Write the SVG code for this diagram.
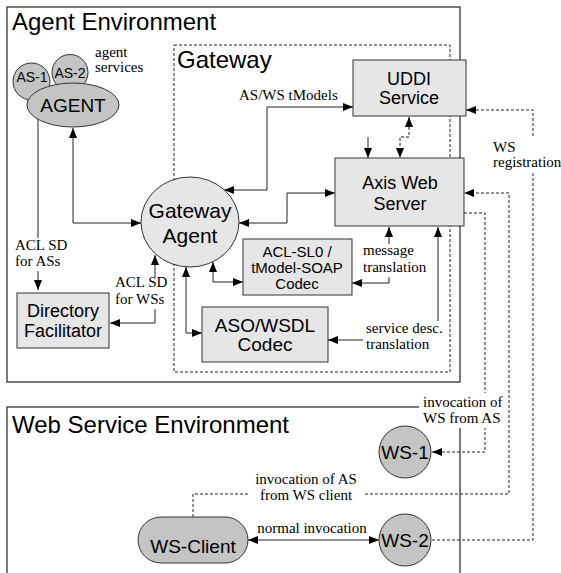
<svg xmlns="http://www.w3.org/2000/svg" width="561" height="573" viewBox="0 0 561 573">
<defs>
<marker id="ah" viewBox="0 0 10 8" refX="10" refY="4" markerWidth="10" markerHeight="8" markerUnits="userSpaceOnUse" orient="auto-start-reverse"><path d="M0,0 L10,4 L0,8 z" fill="#000"/></marker>
</defs>
<style>
.env{fill:none;stroke:#222;stroke-width:1.2}
.gw{fill:none;stroke:#222;stroke-width:1;stroke-dasharray:3,2}
.box{fill:#e6e6e6;stroke:#333;stroke-width:1}
.dk{fill:#c4c4c4;stroke:#333;stroke-width:1}
.c{fill:none;stroke:#222;stroke-width:1}
.d{fill:none;stroke:#222;stroke-width:1;stroke-dasharray:3,2}
.a{marker-end:url(#ah)}
.aa{marker-start:url(#ah);marker-end:url(#ah)}
.t{font-family:"Liberation Sans",Arial,sans-serif;fill:#000;text-anchor:middle}
.big{font-family:"Liberation Sans",Arial,sans-serif;font-size:24px;fill:#000}
.lab{font-family:"Liberation Serif","Times New Roman",serif;font-size:15px;fill:#000}
.bg{fill:#fff}
</style>
<g id="containers">
<rect class="env" x="7" y="7" width="453" height="375"/>
<text class="big" x="12" y="30">Agent Environment</text>
<rect class="env" x="7" y="407" width="453" height="190"/>
<text class="big" x="12" y="433">Web Service Environment</text>
<rect class="gw" x="174" y="45" width="276" height="327"/>
<text class="big" x="177" y="68">Gateway</text>
</g>
<g id="connectors">
<path class="c aa" d="M73,128 V223 H141"/>
<path class="c a" d="M38,119 V290"/>
<path class="c aa" d="M155,255 V323 H110"/>
<path class="c aa" d="M186,267 V333 H202"/>
<path class="c aa" d="M213,262 V282 H243"/>
<path class="c aa" d="M239,223 H287 V193 H335"/>
<path class="c aa" d="M224,190 H267 V107 H353"/>
<path class="c aa" d="M389,227 V283 H352"/>
<path class="c aa" d="M438,227 V340 H328"/>
<path class="d aa" d="M409,117 V137 H400 V158"/>
<path class="c a" d="M368,137 V158"/>
<path class="d a" d="M432,540 H533 V110 H466"/>
<path class="d a" d="M464,213 H485 V452 H432"/>
<path class="d a" d="M193,517 V494 H509 V193 H464"/>
<path class="c aa" d="M248,540 H379"/>
</g>
<g id="labels">
<text class="lab" x="239" y="100">AS/WS tModels</text>
<text class="lab" x="95" y="57">agent</text>
<text class="lab" x="95" y="72">services</text>
<rect class="bg" x="13" y="238" width="56" height="33"/>
<text class="lab" x="15" y="250">ACL SD</text>
<text class="lab" x="15" y="266">for ASs</text>
<rect class="bg" x="113" y="277" width="54" height="32"/>
<text class="lab" x="115" y="287">ACL SD</text>
<text class="lab" x="115" y="304">for WSs</text>
<rect class="bg" x="361" y="244" width="68" height="33"/>
<text class="lab" x="363" y="255">message</text>
<text class="lab" x="363" y="272">translation</text>
<rect class="bg" x="363" y="321" width="82" height="33"/>
<text class="lab" x="366" y="333">service desc.</text>
<text class="lab" x="366" y="349">translation</text>
<rect class="bg" x="490" y="138" width="71" height="34"/>
<text class="lab" x="493" y="152">WS</text>
<text class="lab" x="493" y="167">registration</text>
<rect class="bg" x="419" y="393" width="86" height="35"/>
<text class="lab" x="423" y="407">invocation of</text>
<text class="lab" x="423" y="423">WS from AS</text>
<rect class="bg" x="250" y="470" width="113" height="35"/>
<text class="lab" x="306" y="484" text-anchor="middle">invocation of AS</text>
<text class="lab" x="306" y="500" text-anchor="middle">from WS client</text>
<text class="lab" x="312" y="533" text-anchor="middle">normal invocation</text>
</g>
<g id="as1"><circle class="dk" cx="31.5" cy="81.5" r="18.5"/><text class="t" x="32" y="82" font-size="14">AS-1</text></g>
<g id="as2"><circle class="dk" cx="70" cy="72.5" r="18"/><text class="t" x="70" y="78" font-size="14">AS-2</text></g>
<g id="agent"><ellipse class="dk" cx="73" cy="105" rx="46" ry="22"/><text class="t" x="73" y="112" font-size="19">AGENT</text></g>
<g id="gateway-agent"><ellipse class="box" cx="190" cy="222" rx="49" ry="45"/><text class="t" x="190" y="218" font-size="21">Gateway</text><text class="t" x="190" y="243" font-size="21">Agent</text></g>
<g id="uddi"><rect class="box" x="353" y="60" width="113" height="56"/><text class="t" x="409" y="85" font-size="18">UDDI</text><text class="t" x="409" y="104" font-size="18">Service</text></g>
<g id="axis"><rect class="box" x="335" y="158" width="129" height="68"/><text class="t" x="400" y="189" font-size="18">Axis Web</text><text class="t" x="400" y="210" font-size="18">Server</text></g>
<g id="acl-codec"><rect class="box" x="243" y="239" width="109" height="56"/><text class="t" x="297" y="257" font-size="15">ACL-SL0 /</text><text class="t" x="297" y="273" font-size="15">tModel-SOAP</text><text class="t" x="297" y="289" font-size="15">Codec</text></g>
<g id="aso-codec"><rect class="box" x="202" y="307" width="126" height="55"/><text class="t" x="265" y="332" font-size="19">ASO/WSDL</text><text class="t" x="265" y="351" font-size="19">Codec</text></g>
<g id="df"><rect class="box" x="17" y="293" width="92" height="55"/><text class="t" x="63" y="317" font-size="18">Directory</text><text class="t" x="63" y="337" font-size="18">Facilitator</text></g>
<g id="ws1"><circle class="dk" cx="405" cy="452" r="26"/><text class="t" x="405" y="459" font-size="19">WS-1</text></g>
<g id="ws2"><circle class="dk" cx="405" cy="540" r="26"/><text class="t" x="405" y="547" font-size="19">WS-2</text></g>
<g id="ws-client"><rect class="dk" x="138" y="517" width="110" height="46" rx="23"/><text class="t" x="193" y="553" font-size="19">WS-Client</text></g>
</svg>
